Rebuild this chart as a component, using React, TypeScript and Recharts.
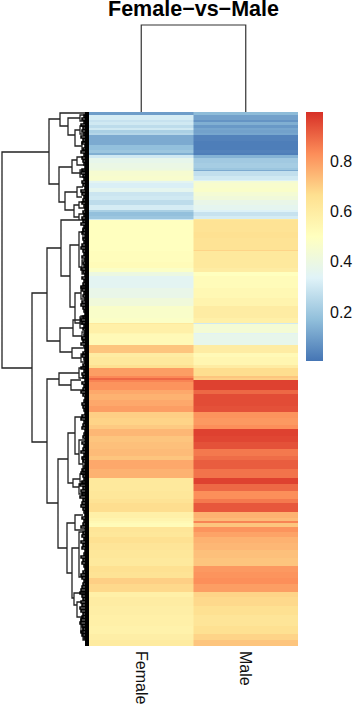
import { Bar, BarChart, Cell, Line, LineChart, XAxis, YAxis } from 'recharts';

const samples = ['Female', 'Male'];
const legendTicks = [0.2, 0.4, 0.6, 0.8];
const legendRange = [0.005, 0.995];
const palette = ['#4575B4', '#91BFDB', '#E0F3F8', '#FFFFBF', '#FEE090', '#FC8D59', '#D73027'];

// lower edge of each heatmap band, counted in rows from the top
const bandEnds = [
  3, 8, 10, 13, 16, 18, 21, 23, 29, 33, 38, 41, 43, 46, 51, 56, 58, 59, 64, 68, 69, 71, 76, 80, 84, 88, 93, 98, 100, 104, 107, 108,
  120, 126, 138, 139, 150, 156, 160, 164, 176, 186, 194, 206, 211, 212, 221, 222, 233, 241, 245, 253, 256, 264, 266, 268, 270, 278, 282, 288, 294, 300, 306, 313,
  317, 324, 330, 337, 344, 348, 357, 366, 372, 379, 387, 391, 400, 406, 409, 411, 415, 420, 425, 431, 438, 446, 454, 460, 466, 472, 480, 485, 494, 503, 514, 522, 528, 534,
];
const femaleValues = [
  0.09, 0.31, 0.28, 0.3, 0.26, 0.3, 0.22, 0.24, 0.12, 0.12, 0.17, 0.19, 0.13, 0.3, 0.37, 0.39, 0.4, 0.42, 0.45, 0.46, 0.44, 0.35, 0.32, 0.36, 0.29, 0.3, 0.26, 0.31, 0.22, 0.17, 0.19, 0.3,
  0.5, 0.5, 0.5, 0.5, 0.51, 0.52, 0.48, 0.4, 0.35, 0.38, 0.42, 0.47, 0.48, 0.62, 0.58, 0.55, 0.53, 0.72, 0.6, 0.62, 0.66, 0.8, 0.84, 0.9, 0.85, 0.82, 0.78, 0.76, 0.78, 0.8, 0.7, 0.69,
  0.71, 0.75, 0.72, 0.73, 0.74, 0.72, 0.78, 0.76, 0.62, 0.62, 0.63, 0.65, 0.67, 0.58, 0.56, 0.54, 0.52, 0.64, 0.63, 0.66, 0.64, 0.63, 0.62, 0.66, 0.65, 0.7, 0.68, 0.58, 0.6, 0.59, 0.58, 0.57, 0.59, 0.61,
];
const maleValues = [
  0.16, 0.1, 0.07, 0.13, 0.08, 0.11, 0.1, 0.11, 0.03, 0.02, 0.02, 0.03, 0.02, 0.14, 0.2, 0.21, 0.19, 0.12, 0.27, 0.3, 0.33, 0.44, 0.46, 0.47, 0.44, 0.42, 0.38, 0.36, 0.33, 0.28, 0.31, 0.62,
  0.65, 0.66, 0.65, 0.69, 0.62, 0.62, 0.6, 0.5, 0.52, 0.54, 0.56, 0.6, 0.58, 0.3, 0.44, 0.34, 0.37, 0.6, 0.53, 0.55, 0.6, 0.67, 0.72, 0.7, 0.97, 0.97, 0.9, 0.95, 0.95, 0.94, 0.82, 0.81,
  0.83, 0.97, 0.96, 0.94, 0.87, 0.89, 0.92, 0.88, 0.97, 0.9, 0.83, 0.87, 0.93, 0.76, 0.74, 0.85, 0.72, 0.82, 0.79, 0.76, 0.75, 0.73, 0.72, 0.81, 0.82, 0.83, 0.8, 0.69, 0.68, 0.66, 0.64, 0.66, 0.69, 0.72,
];

// row dendrogram merges: height, top position, top child height, bottom position, bottom child height
const rowMerges = [
  [87, 40, 40, 256, 57], [40, 7, 29, 72, 30], [29, 1, 2, 14, 21], [21, 6, 9, 23, 14], [14, 18, 9, 34, 7],
  [9, 3, 3, 9, 4], [9, 14, 4, 22, 5], [7, 30, 3, 38, 4], [30, 55, 17, 90, 24], [17, 48, 12, 61, 9],
  [12, 45, 6, 53, 5], [9, 58, 4, 65, 3], [24, 80, 12, 98, 15], [12, 75, 6, 85, 7], [15, 93, 10, 105, 10],
  [10, 90, 4, 96, 3], [10, 102, 4, 108, 3], [57, 181, 42, 330, 42], [42, 136, 28, 229, 29], [28, 108, 4, 164, 19],
  [19, 133, 10, 195, 14], [10, 120, 6, 155, 7], [14, 181, 8, 211, 9], [6, 116, 3, 126, 3], [7, 148, 3, 162, 4],
  [8, 175, 3, 187, 4], [9, 205, 4, 216, 3], [29, 216, 16, 240, 17], [16, 208, 8, 224, 7], [17, 236, 6, 246, 8],
  [8, 204, 3, 212, 3], [7, 220, 3, 228, 3], [8, 242, 3, 250, 3], [42, 267, 30, 391, 31], [30, 261, 10, 273, 18],
  [10, 256, 4, 266, 4], [18, 268, 8, 278, 6], [31, 347, 21, 436, 22], [21, 321, 14, 371, 16], [14, 305, 6, 342, 10],
  [10, 328, 5, 352, 6], [6, 345, 3, 360, 3], [16, 367, 9, 375, 10], [9, 362, 3, 370, 3], [10, 372, 4, 382, 3],
  [22, 411, 14, 461, 17], [14, 403, 6, 418, 5], [17, 436, 10, 486, 15], [10, 420, 5, 465, 6], [15, 481, 3, 493, 12],
  [12, 490, 8, 505, 8], [8, 505, 5, 520, 6], [6, 515, 3, 528, 3],
];
// the small brackets along the leaves, one per 3 rows from the top
const twigHeights = [
  3, 5, 7, 5, 8, 6, 7, 5, 8, 6, 7, 4, 6, 8, 5, 7, 6, 5, 4, 7, 8, 6, 5, 7, 6, 4, 8, 7, 5, 6, 7, 5, 4, 6, 5, 7,
  6, 8, 5, 6, 7, 4, 6, 5, 7, 8, 6, 5, 7, 4, 6, 5, 8, 6, 4, 7, 5, 6, 8, 7, 5, 6, 4, 7, 8, 6, 5, 4, 6, 8, 7, 5,
  6, 4, 5, 7, 6, 8, 5, 4, 6, 7, 5, 4, 6, 8, 5, 7, 6, 4, 7, 5, 6, 8, 6, 4, 5, 7, 6, 5, 4, 7, 8, 5, 6, 7, 4, 5,
  6, 4, 7, 5, 6, 8, 5, 7, 6, 4, 5, 7, 8, 6, 5, 7, 9, 6, 8, 7, 9, 6, 7, 8, 6, 5, 4, 7, 5, 6, 8, 4, 6, 7, 5, 8,
  6, 7, 4, 5, 8, 6, 7, 5, 4, 6, 8, 7, 5, 6, 7, 8, 9, 7, 6, 8, 7, 9, 8, 6, 7, 8, 9, 7, 6, 8, 7, 5,
];
const leafDepth = 4;
const rowSpan = 534;
const colHeight = 87;

const valueColor = (v: number) => {
  const t = Math.min(0.9999, Math.max(0, v)) * (palette.length - 1);
  const i = Math.floor(t);
  const mix = (s: number) => {
    const a = parseInt(palette[i].slice(s, s + 2), 16);
    const b = parseInt(palette[i + 1].slice(s, s + 2), 16);
    return Math.round(a + (b - a) * (t - i));
  };
  return `rgb(${mix(1)},${mix(3)},${mix(5)})`;
};

const heatData = samples.map((name) => {
  const row: Record<string, string | number> = { name };
  bandEnds.forEach((end, i) => {
    row[`b${i}`] = end - (i ? bandEnds[i - 1] : 0);
  });
  return row;
});

const rowLines: { h: number; pos: number | null }[] = [];
rowMerges.forEach(([h, p1, h1, p2, h2]) => {
  rowLines.push({ h: h1, pos: p1 }, { h, pos: p1 }, { h, pos: p2 }, { h: h2, pos: p2 }, { h, pos: null });
});
const twigLines: { h: number; pos: number | null }[] = [];
twigHeights.forEach((h, i) => {
  const p = i * 3;
  twigLines.push({ h: 0, pos: p }, { h, pos: p }, { h, pos: p + 2 }, { h: 0, pos: p + 2 }, { h, pos: null });
});
const leafStrip = [{ h: leafDepth / 2, pos: 0 }, { h: leafDepth / 2, pos: rowSpan }];

const colLines = [
  { col: 0.5, h: 0 },
  { col: 0.5, h: colHeight },
  { col: 1.5, h: colHeight },
  { col: 1.5, h: 0 },
];

const SampleTick = ({ x, y, payload }: any) => (
  <text
    x={x}
    y={y - 1}
    transform={`rotate(90 ${x} ${y - 1})`}
    dominantBaseline="central"
    fontSize={16}
    fontFamily="Liberation Sans"
    fill="#111"
  >
    {payload.value}
  </text>
);

const App = () => {
  return (
    <div style={{ position: 'absolute', left: 0, top: 0, width: 355, height: 710, background: '#fff', overflow: 'hidden' }}>
      {/*TITLE*/}
      <div
        style={{
          position: 'absolute', left: 89, top: 0, width: 209, textAlign: 'center', whiteSpace: 'nowrap',
          fontFamily: 'Liberation Sans', fontWeight: 'bold', fontSize: 21.5, lineHeight: '18px', color: '#000',
        }}
      >
        Female−vs−Male
      </div>

      {/*COLUMN DENDROGRAM*/}
      <div style={{ position: 'absolute', left: 89, top: 20 }}>
        <LineChart width={209} height={92} data={colLines} margin={{ top: 0, right: 0, bottom: 0, left: 0 }}>
          <XAxis type="number" dataKey="col" domain={[0, 2]} hide />
          <YAxis type="number" domain={[0, 92]} hide />
          <Line dataKey="h" stroke="#333" strokeWidth={1.2} dot={false} isAnimationActive={false} />
        </LineChart>
      </div>

      {/*ROW DENDROGRAM*/}
      <div style={{ position: 'absolute', left: 0, top: 112 }}>
        <LineChart width={89} height={rowSpan} margin={{ top: 0, right: 0, bottom: 0, left: 0 }}>
          <XAxis type="number" dataKey="h" domain={[0, 89]} reversed hide />
          <YAxis type="number" domain={[0, rowSpan]} reversed hide />
          <Line data={rowLines} dataKey="pos" stroke="#222" strokeWidth={1.3} dot={false} isAnimationActive={false} />
          <Line data={twigLines} dataKey="pos" stroke="#000" strokeWidth={1.5} dot={false} isAnimationActive={false} />
          <Line data={leafStrip} dataKey="pos" stroke="#000" strokeWidth={leafDepth} dot={false} isAnimationActive={false} />
        </LineChart>
      </div>

      {/*HEATMAP*/}
      <div style={{ position: 'absolute', left: 89, top: 112 }}>
        <BarChart width={209} height={598} data={heatData} barCategoryGap={0} margin={{ top: 0, right: 0, bottom: 0, left: 0 }}>
          <XAxis dataKey="name" height={64} axisLine={false} tickLine={false} tickMargin={0} interval={0} tick={SampleTick} />
          <YAxis type="number" domain={[0, rowSpan]} reversed hide />
          {bandEnds.map((_, i) => (
            <Bar key={i} dataKey={`b${i}`} stackId="heat" isAnimationActive={false}>
              <Cell fill={valueColor(femaleValues[i])} />
              <Cell fill={valueColor(maleValues[i])} />
            </Bar>
          ))}
        </BarChart>
      </div>

      {/*LEGEND*/}
      <div style={{ position: 'absolute', left: 306, top: 112 }}>
        <BarChart width={49} height={249} data={[{ name: 'scale', range: legendRange }]} barCategoryGap={0} margin={{ top: 0, right: 0, bottom: 0, left: 0 }}>
          <defs>
            <linearGradient id="legendRamp" x1="0" y1="0" x2="0" y2="1">
              {[...palette].reverse().map((c, i) => (
                <stop key={c} offset={i / (palette.length - 1)} stopColor={c} />
              ))}
            </linearGradient>
          </defs>
          <XAxis dataKey="name" hide />
          <YAxis
            orientation="right"
            width={32}
            type="number"
            domain={legendRange}
            ticks={legendTicks}
            axisLine={false}
            tickLine={false}
            tickMargin={1}
            tick={{ fontSize: 16, fontFamily: 'Liberation Sans', fill: '#111' }}
          />
          <Bar dataKey="range" fill="url(#legendRamp)" isAnimationActive={false} />
        </BarChart>
      </div>
    </div>
  );
};

export default App;
